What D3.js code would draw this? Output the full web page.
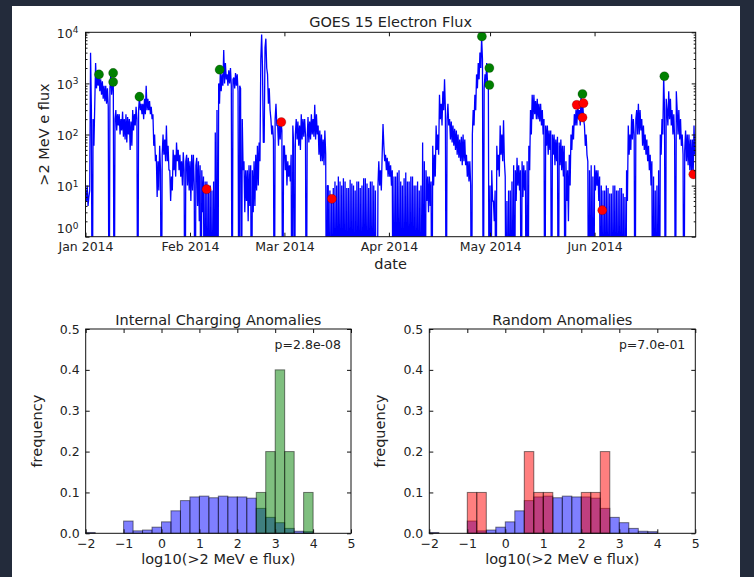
<!DOCTYPE html>
<html>
<head>
<meta charset="utf-8">
<script src="https://cdn.jsdelivr.net/npm/d3@7"></script>
<style>
body { margin: 0; background: #232b3b; }
svg text { font-family: "DejaVu Sans", sans-serif; fill: #222; }
</style>
</head>
<body>
<svg id="fig" width="754" height="577"></svg>
<script>
// >2 MeV electron flux, one reading every 6 h from 2014-01-01 00:00 UTC, one line = a few days
// (0.001 = dropout, falls below the plot)
var fluxJan = [
  8,5,10,4, 6,8,4000,300, 0.001,200,60,400, 2500,800,1500,900, 1600,700,1200,600,
  1100,500,900,450, 900,400,800,350, 0.001,800,1500,600, 1000,900,0.001,200,
  300,120,250,150, 250,100,200,120, 280,90,200,80, 250,70,220,100, 200,50,180,60,
  300,120,250,150, 350,200,0.001,300, 550,300,400,250, 400,200,500,250, 900,300,500,300,
  450,250,350,200, 250,60,100,30, 40,6,30,8, 60,20,0.001,40, 100,40,80,30,
  150,30,60,20, 20,5,15,8, 50,20,40,15, 70,30,50,20, 40,15,30,10,
  45,20,0.001,30, 40,10,35,8];
var fluxFeb = [
  30,5,40,8, 40,10,0.001,25, 35,4,30,2, 25,0.001,20,3, 15,0.001,12,0.001,
  12,0.001,10,0.001, 10,0.001,8,0.001, 12,0.001,110,0.001, 300,0.001,1000,400,
  1800,700,1500,900, 4500,1000,2500,1200, 1500,900,1800,1000, 2000,900,0.001,1200,
  1300,800,1600,900, 1500,700,0.001,900, 800,0.001,200,20, 30,3,20,5, 20,2,25,4,
  25,0.001,20,3, 30,4,40,8, 60,10,70,30, 3000,9000,2000,70, 70,5000,7500,2000,
  1500,400,800,300, 200,100,150,80, 0.001,200,400,150, 150,60,200,80, 180,120,0.001,60];
var fluxMar = [
  60,20,40,10, 30,15,25,12, 40,0.001,150,60, 0.001,100,200,80, 180,60,150,50,
  250,80,200,90, 200,100,0.001,80, 220,70,180,80, 250,100,200,90, 380,80,250,100,
  150,40,120,30, 100,30,80,25, 120,40,0.001,10, 10,0.001,8,0.001, 6,0.001,9,0.001,
  12,0.001,10,0.001, 15,0.001,12,0.001, 10,0.001,14,0.001, 12,0.001,9,0.001, 9,0.001,13,0.001,
  11,0.001,10,0.001, 8,0.001,12,0.001, 12,0.001,9,0.001, 10,0.001,14,0.001, 14,0.001,11,0.001,
  9,0.001,12,0.001, 12,0.001,10,0.001, 8,0.001,0.001,10, 30,10,20,8, 40,160,60,30,
  40,20,35,15];
var fluxApr = [
  30,15,25,10, 20,0.001,15,0.001, 15,0.001,18,0.001, 20,0.001,12,0.001, 10,0.001,14,0.001,
  18,0.001,12,0.001, 12,0.001,15,0.001, 15,0.001,10,0.001, 10,0.001,12,0.001, 8,0.001,10,0.001,
  70,0.001,30,0.001, 20,5,15,3, 15,4,12,0.001, 60,10,40,15, 150,50,100,40,
  600,200,400,150, 700,300,1200,300, 0.001,200,400,150, 200,80,180,70, 150,60,130,50,
  120,40,100,35, 80,30,90,25, 100,30,80,25, 40,15,30,12, 30,10,0.001,100,
  300,150,600,300, 1500,800,2500,1200, 4000,2000,8000,3000, 0.001,800,1500,1000, 2500,1000,900,0.001];
var fluxMay = [
  10,0.001,20,5, 5,2,8,0.001, 60,20,40,15, 150,40,100,30, 190,30,15,0.001,
  5,0.001,8,0.001, 8,0.001,12,0.001, 25,0.001,20,5, 35,10,25,8, 20,0.001,30,6,
  25,8,20,0.001, 30,0.001,60,20, 300,100,600,200, 600,250,450,200, 500,200,400,180,
  400,150,300,100, 200,0.001,150,60, 150,40,120,50, 120,0.001,100,40, 100,25,80,30,
  90,0.001,70,25, 80,20,60,15, 60,0.001,30,5, 20,2,40,10, 100,50,150,80,
  250,150,300,150, 400,200,300,150, 600,200,400,200, 150,60,100,40, 30,0.001,20,0.001,
  25,0.001,15,0.001];
var fluxJun = [
  25,8,20,10, 20,5,15,0.001, 10,0.001,8,0.001, 8,0.001,10,0.001, 9,0.001,7,0.001,
  7,0.001,10,0.001, 10,0.001,8,0.001, 8,0.001,9,0.001, 9,0.001,7,0.001, 6,0.001,20,5,
  150,40,100,50, 250,80,200,100, 0.001,200,300,100, 400,100,300,120, 200,60,150,50,
  100,40,80,30, 60,20,40,10, 30,0.001,15,0.001, 8,0.001,10,0.001, 20,0.001,100,40,
  200,100,1400,300, 0.001,500,300,150, 700,200,500,150, 300,100,250,80, 0.001,700,300,100,
  300,80,200,60, 100,40,0.001,50, 120,30,100,25, 100,20,80,15, 80,17,150,40];

// anomalies
var chargingDates = ["2014-01-05T00:00", "2014-01-09T05:00", "2014-01-09T05:00", "2014-01-17T00:00",
  "2014-02-09T19:00", "2014-04-28T14:00", "2014-04-30T19:00", "2014-04-30T19:00",
  "2014-05-28T10:00", "2014-06-21T17:00"];
var chargingFlux = [1500, 1600, 1070, 550, 1860, 8300, 2000, 930, 620, 1380];
var randomDates = ["2014-02-05T22:00", "2014-02-28T02:00", "2014-03-15T02:00", "2014-03-21T12:00",
  "2014-04-07T12:00", "2014-05-26T17:00", "2014-05-28T10:00", "2014-05-28T17:00",
  "2014-06-03T07:00", "2014-06-30T07:00"];
var randomFlux = [8.5, 175, 5.5, 0.13, 0.25, 380, 215, 410, 3.3, 16.6];

// frequency of log10 flux for the whole period, bins of 0.25 from -2 to 5
var allFluxFreq = [0.002, 0, 0, 0, 0.030, 0.006, 0.008, 0.015, 0.028, 0.055, 0.080, 0.089, 0.091,
  0.087, 0.091, 0.089, 0.089, 0.086, 0.061, 0.039, 0.026, 0.012, 0.005, 0.004, 0, 0, 0, 0];

var pCharging = "p=2.8e-08", pRandom = "p=7.0e-01";

var LABEL = "14.5px", TICK = "12.5px";

var svg = d3.select("#fig");
svg.append("rect").attr("x", 12).attr("y", 6).attr("width", 728).attr("height", 571)
  .attr("fill", "#fff");

var parseT = d3.utcParse("%Y-%m-%dT%H:%M");
var t0 = Date.UTC(2014, 0, 1);

// ---------- top: time series ----------
var P = {l: 85.5, r: 695.7, t: 32.3, b: 236.7};
var x = d3.scaleUtc().domain([t0, Date.UTC(2014, 6, 1)]).range([P.l, P.r]);
var y = d3.scaleLog().domain([1, 1e4]).range([P.b, P.t]);

var flux = [].concat(fluxJan, fluxFeb, fluxMar, fluxApr, fluxMay, fluxJun);
var series = flux.map(function(v, i) {
  return {date: d3.utcHour.offset(new Date(t0), 6 * i), flux: v};
});

svg.append("clipPath").attr("id", "clipTop").append("rect")
  .attr("x", P.l).attr("y", P.t).attr("width", P.r - P.l).attr("height", P.b - P.t);

var plot = svg.append("g").attr("clip-path", "url(#clipTop)");
plot.append("path").datum(series)
  .attr("fill", "none").attr("stroke", "#0000ff").attr("stroke-width", 1.3)
  .attr("stroke-linejoin", "bevel")
  .attr("d", d3.line().x(function(d) { return x(d.date); }).y(function(d) { return y(d.flux); }));

function dots(dates, vals, color) {
  plot.selectAll(null).data(dates).enter().append("circle")
    .attr("cx", function(d) { return x(parseT(d)); })
    .attr("cy", function(d, i) { return y(vals[i]); })
    .attr("r", 4.6).attr("fill", color)
    .attr("stroke", "#000").attr("stroke-width", 0.4).attr("stroke-opacity", 0.5);
}
dots(chargingDates, chargingFlux, "#008000");
dots(randomDates, randomFlux, "#ff0000");

svg.append("rect").attr("x", P.l).attr("y", P.t).attr("width", P.r - P.l).attr("height", P.b - P.t)
  .attr("fill", "none").attr("stroke", "#111").attr("stroke-width", 1);

var months = d3.utcMonth.range(new Date(t0), new Date(Date.UTC(2014, 5, 2)));
var monthFmt = d3.utcFormat("%b %Y");

function styleAxis(g) {
  g.select(".domain").remove();
  g.attr("font-size", null).attr("font-family", null);
  g.selectAll("line").attr("stroke", "#111");
  g.selectAll("text").style("font-size", TICK);
}

svg.append("g").attr("transform", "translate(0," + P.b + ")")
  .call(d3.axisBottom(x).tickValues(months).tickFormat(monthFmt).tickSizeInner(-4).tickSizeOuter(0).tickPadding(5.5))
  .call(styleAxis);
svg.append("g").attr("transform", "translate(0," + P.t + ")")
  .call(d3.axisTop(x).tickValues(months).tickFormat("").tickSizeInner(-4).tickSizeOuter(0))
  .call(styleAxis);

var majors = [1, 10, 100, 1000, 10000];
var minors = [];
[1, 10, 100, 1000].forEach(function(p) { d3.range(2, 10).forEach(function(m) { minors.push(m * p); }); });

var yl = svg.append("g").attr("transform", "translate(" + P.l + ",0)")
  .call(d3.axisLeft(y).tickValues(majors).tickSizeInner(-4).tickSizeOuter(0).tickPadding(7))
  .call(styleAxis);
yl.selectAll(".tick text").text(null)
  .attr("dy", function(d) { return d === 1 ? "-0.3em" : "0.4em"; })
  .each(function(d) {
    var t = d3.select(this);
    t.append("tspan").text("10");
    t.append("tspan").attr("dy", "-0.5em").style("font-size", "9px").text(Math.round(Math.log10(d)));
  });
svg.append("g").attr("transform", "translate(" + P.l + ",0)")
  .call(d3.axisLeft(y).tickValues(minors).tickFormat("").tickSizeInner(-2).tickSizeOuter(0))
  .call(styleAxis);
svg.append("g").attr("transform", "translate(" + P.r + ",0)")
  .call(d3.axisRight(y).tickValues(majors).tickFormat("").tickSizeInner(-4).tickSizeOuter(0))
  .call(styleAxis);
svg.append("g").attr("transform", "translate(" + P.r + ",0)")
  .call(d3.axisRight(y).tickValues(minors).tickFormat("").tickSizeInner(-2).tickSizeOuter(0))
  .call(styleAxis);

svg.append("text").attr("x", (P.l + P.r) / 2).attr("y", 27).attr("text-anchor", "middle")
  .style("font-size", LABEL).text("GOES 15 Electron Flux");
svg.append("text").attr("x", (P.l + P.r) / 2).attr("y", 269).attr("text-anchor", "middle")
  .style("font-size", LABEL).text("date");
svg.append("text").attr("transform", "translate(49," + (P.t + P.b) / 2 + ") rotate(-90)")
  .attr("text-anchor", "middle").style("font-size", LABEL).text(">2 MeV e flux");

// ---------- bottom: histograms ----------
var edges = d3.range(-2, 5.001, 0.25);

function anomalyFreq(vals) {
  var bins = d3.bin().domain([-2, 5]).thresholds(edges.slice(1, -1))(vals.map(Math.log10));
  return bins.map(function(b) { return b.length / vals.length; });
}

function drawHist(H) {
  var hx = d3.scaleLinear().domain([-2, 5]).range([H.l, H.r]);
  var hy = d3.scaleLinear().domain([0, 0.5]).range([H.b, H.t]);
  var g = svg.append("g");

  function bars(freq, color) {
    var data = freq.map(function(f, i) { return {x0: edges[i], x1: edges[i + 1], f: f}; })
      .filter(function(d) { return d.f > 0; });
    g.selectAll(null).data(data).enter().append("rect")
      .attr("x", function(d) { return hx(d.x0); })
      .attr("width", function(d) { return hx(d.x1) - hx(d.x0); })
      .attr("y", function(d) { return hy(d.f); })
      .attr("height", function(d) { return hy(0) - hy(d.f); })
      .attr("fill", color).attr("fill-opacity", 0.5)
      .attr("stroke", "#000").attr("stroke-opacity", 0.5).attr("stroke-width", 1);
  }
  bars(allFluxFreq, "#0000ff");
  bars(anomalyFreq(H.vals), H.color);

  g.append("rect").attr("x", H.l).attr("y", H.t).attr("width", H.r - H.l).attr("height", H.b - H.t)
    .attr("fill", "none").attr("stroke", "#111");

  var xt = d3.range(-2, 6), yt = d3.range(0, 0.51, 0.1);
  g.append("g").attr("transform", "translate(0," + H.b + ")")
    .call(d3.axisBottom(hx).tickValues(xt).tickFormat(d3.format("d")).tickSizeInner(-4).tickSizeOuter(0).tickPadding(5.5))
    .call(styleAxis);
  g.append("g").attr("transform", "translate(0," + H.t + ")")
    .call(d3.axisTop(hx).tickValues(xt).tickFormat("").tickSizeInner(-4).tickSizeOuter(0))
    .call(styleAxis);
  g.append("g").attr("transform", "translate(" + H.l + ",0)")
    .call(d3.axisLeft(hy).tickValues(yt).tickFormat(d3.format(".1f")).tickSizeInner(-4).tickSizeOuter(0).tickPadding(6))
    .call(styleAxis);
  g.append("g").attr("transform", "translate(" + H.r + ",0)")
    .call(d3.axisRight(hy).tickValues(yt).tickFormat("").tickSizeInner(-4).tickSizeOuter(0))
    .call(styleAxis);

  var cx = (H.l + H.r) / 2;
  g.append("text").attr("x", cx).attr("y", 324.5).attr("text-anchor", "middle")
    .style("font-size", LABEL).text(H.title);
  g.append("text").attr("x", H.r - 10).attr("y", 349).attr("text-anchor", "end")
    .style("font-size", TICK).text(H.p);
  g.append("text").attr("x", cx).attr("y", 564).attr("text-anchor", "middle")
    .style("font-size", LABEL).text("log10(>2 MeV e flux)");
  g.append("text").attr("transform", "translate(" + (H.l - 44) + "," + (H.t + H.b) / 2 + ") rotate(-90)")
    .attr("text-anchor", "middle").style("font-size", LABEL).text("frequency");
}

drawHist({l: 85.7, r: 351, t: 329, b: 533.3, vals: chargingFlux, color: "#008000",
  title: "Internal Charging Anomalies", p: pCharging});
drawHist({l: 429.3, r: 695.3, t: 329, b: 533.3, vals: randomFlux, color: "#ff0000",
  title: "Random Anomalies", p: pRandom});
</script>
</body>
</html>
